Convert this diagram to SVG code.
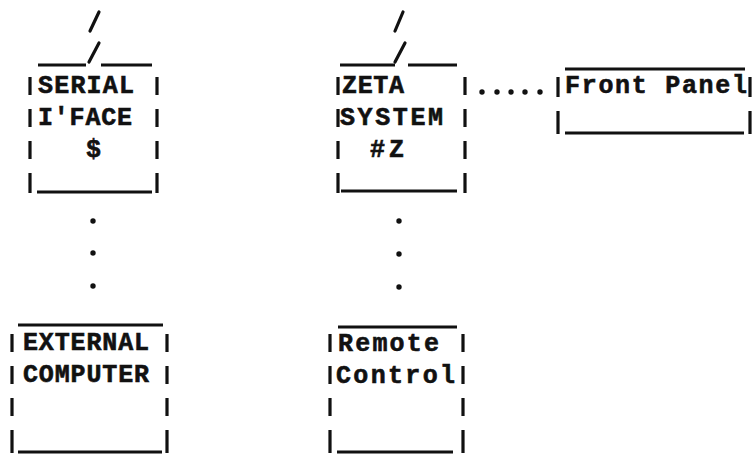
<svg xmlns="http://www.w3.org/2000/svg" width="755" height="455" viewBox="0 0 755 455">
<style>
.t{font-family:"Liberation Mono","DejaVu Sans Mono",monospace;font-weight:bold;font-size:25px;fill:#111;stroke:#111;stroke-width:0.6}
.ln{stroke:#111;stroke-width:2.8;fill:none}
.bar{stroke:#111;stroke-width:3.2;fill:none}
.sl{stroke:#111;stroke-width:3.2;fill:none;stroke-linecap:round}
.dot{fill:#111}
</style>
<rect width="755" height="455" fill="#fff"/>
<g id="connectors">
  <path class="sl" d="M90 31L99 12M89 62L99 43"/>
  <path class="sl" d="M395 31L403 12M395 62L405 43"/>
  <g class="dot">
    <circle cx="93" cy="221" r="2.7"/><circle cx="93" cy="253" r="2.7"/><circle cx="93" cy="286" r="2.7"/>
    <circle cx="399" cy="221" r="2.7"/><circle cx="399" cy="254" r="2.7"/><circle cx="399" cy="287" r="2.7"/>
    <circle cx="482" cy="92" r="2.7"/><circle cx="497" cy="92" r="2.7"/><circle cx="511" cy="92" r="2.7"/><circle cx="525" cy="92" r="2.7"/><circle cx="540" cy="92" r="2.7"/>
  </g>
</g>
<g id="serial">
  <path class="ln" d="M38 65H86M101 65H152M37 192H152"/>
  <path class="bar" d="M30 77V95M30 109V127M30 141V159M30 173V193M157 77V95M157 109V127M157 141V159M157 173V193"/>
  <text class="t" x="38" y="93" textLength="96">SERIAL</text>
  <text class="t" x="38" y="125" textLength="94">I'FACE</text>
  <text class="t" x="86" y="157">$</text>
</g>
<g id="zeta">
  <path class="ln" d="M340 65H395M408 65H457M341 191H457"/>
  <path class="bar" d="M338 77V95M338 109V127M338 141V159M338 173V193M465 77V95M465 109V127M465 141V159M465 173V193"/>
  <text class="t" x="342" y="93" textLength="62">ZETA</text>
  <text class="t" x="340" y="125" textLength="103">SYSTEM</text>
  <text class="t" x="370" y="157" textLength="34">#Z</text>
</g>
<g id="front-panel">
  <path class="ln" d="M565 69H745M565 133H744"/>
  <path class="bar" d="M558 77V97M558 111V134M750 77V97M750 111V134"/>
  <text class="t" x="565" y="93" textLength="182">Front Panel</text>
</g>
<g id="external">
  <path class="ln" d="M18 325H163M18 452H162"/>
  <path class="bar" d="M12 334V352M12 366V384M12 398V416M12 430V453M167 334V352M167 366V384M167 398V416M167 430V453"/>
  <text class="t" x="23" y="350" textLength="126">EXTERNAL</text>
  <text class="t" x="23" y="382" textLength="126">COMPUTER</text>
</g>
<g id="remote">
  <path class="ln" d="M338 327H457M337 452H453"/>
  <path class="bar" d="M330 334V352M330 366V384M330 398V416M330 430V453M463 334V352M463 366V384M463 398V416M463 430V453"/>
  <text class="t" x="338" y="351" textLength="101">Remote</text>
  <text class="t" x="336" y="383" textLength="119">Control</text>
</g>
</svg>
